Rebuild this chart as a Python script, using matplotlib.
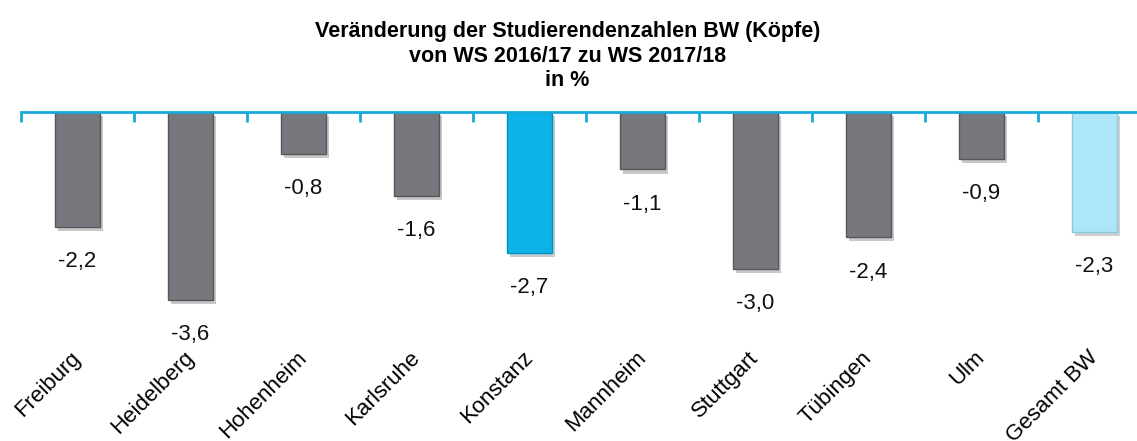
import matplotlib
matplotlib.use("Agg")
import matplotlib.pyplot as plt
import matplotlib.patheffects as pe
import numpy as np

plt.rcParams['font.family'] = ['Liberation Sans', 'DejaVu Sans']

# data
standorte = ["Freiburg", "Heidelberg", "Hohenheim", "Karlsruhe", "Konstanz",
             "Mannheim", "Stuttgart", "Tübingen", "Ulm", "Gesamt BW"]
veraenderung = [-2.2, -3.6, -0.8, -1.6, -2.7, -1.1, -3.0, -2.4, -0.9, -2.3]

grau = "#76787d"
farben = [grau] * len(standorte)
farben[standorte.index("Konstanz")] = "#0cb2e8"
farben[standorte.index("Gesamt BW")] = "#ade6f7"
kanten = ["#55575b"] * len(standorte)
kanten[standorte.index("Konstanz")] = "#0a8fbd"
kanten[standorte.index("Gesamt BW")] = "#8cc9dc"

W, H = 1137, 441
fig = plt.figure(figsize=(W / 100, H / 100), dpi=100)
# axes run slightly past the right edge, like the original export
ax = fig.add_axes([21 / W, 1 - 336.5 / H, 1130 / W, 224.5 / H])

x = np.arange(len(standorte))
bars = ax.bar(x, veraenderung, width=0.4, color=farben, edgecolor=kanten,
              linewidth=1.0, zorder=2)
for b in bars:
    b.set_path_effects([pe.SimplePatchShadow(offset=(2, -3), alpha=0.25),
                        pe.Normal()])

for xi, v in zip(x, veraenderung):
    ax.annotate(f"{v:.1f}".replace(".", ","), (xi, v), xytext=(0, -25),
                textcoords="offset points", ha="center", va="center",
                fontsize=16, color="#111111")

ax.set_xlim(-0.5, len(standorte) - 0.5)
ax.set_ylim(-4.3, 0)
ax.set_yticks([])

for s in ("left", "right", "bottom"):
    ax.spines[s].set_visible(False)
ax.spines["top"].set_color("#19a8dc")
ax.spines["top"].set_linewidth(2)
ax.spines["top"].set_zorder(3)

ax.set_xticks(x)
ax.set_xticklabels(standorte, rotation=45, ha="right", va="center",
                   rotation_mode="anchor", fontsize=16)
ax.tick_params(axis="x", which="major", length=0, pad=13)
ax.set_xticks(np.arange(-0.5, len(standorte), 1.0), minor=True)
ax.tick_params(axis="x", which="minor", top=True, bottom=False,
               direction="in", length=7, width=2, color="#19a8dc")

fig.text(0.499, 1 - 56 / H,
         "Veränderung der Studierendenzahlen BW (Köpfe)\nvon WS 2016/17 zu WS 2017/18\nin %",
         ha="center", va="center", fontsize=15.5, fontweight="bold",
         linespacing=1.2)

fig.savefig("out.png", dpi=100)
